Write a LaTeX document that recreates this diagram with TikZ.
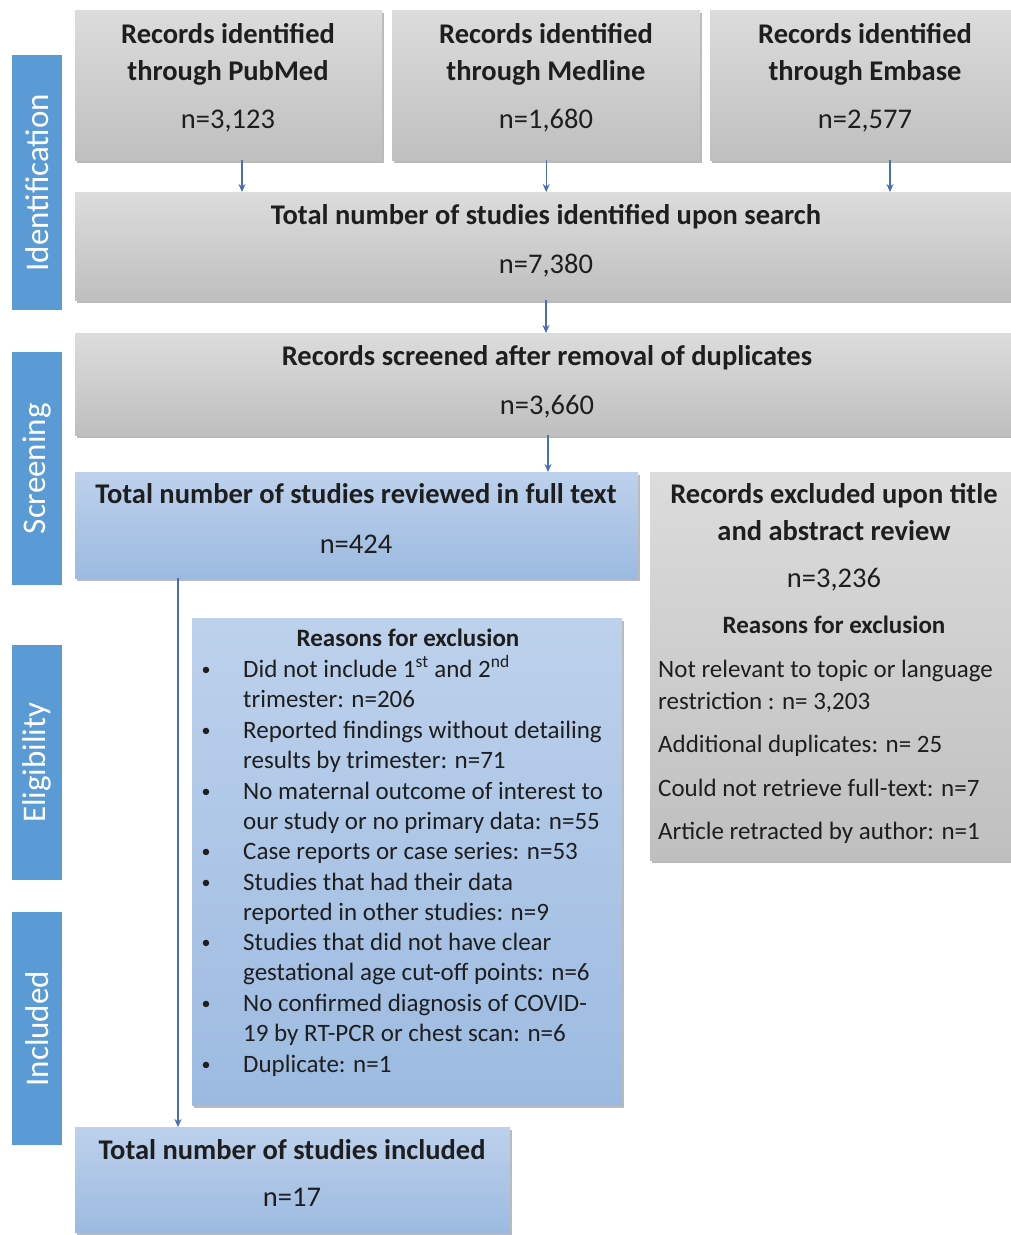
\documentclass[tikz,border=0pt]{standalone}
\usepackage{fontspec}
\setmainfont{Carlito}
\usetikzlibrary{shadows,arrows.meta}
\definecolor{sidebl}{HTML}{5B9BD5}
\definecolor{gtop}{HTML}{DCDCDC}
\definecolor{gbot}{HTML}{BFBFBF}
\definecolor{btop}{HTML}{BDD1EC}
\definecolor{bbot}{HTML}{9CBAE1}
\definecolor{arrc}{HTML}{4A6DB8}
\definecolor{txt}{HTML}{1E1E1E}
\begin{document}
\begin{tikzpicture}[x=1pt,y=-1pt,
  boxbase/.style={draw=none,anchor=north west,inner sep=0pt,
    drop shadow={shadow xshift=1.5pt,shadow yshift=-3pt,fill=black!60,opacity=.45}},
  gbox/.style={boxbase,top color=gtop,bottom color=gbot},
  bbox/.style={boxbase,top color=btop,bottom color=bbot},
  sidebar/.style={draw=none,fill=sidebl,anchor=north west,inner sep=0pt},
  sidetxt/.style={rotate=90,text=white,font=\fontsize{33}{36}\selectfont,inner sep=0pt},
  ttl/.style={anchor=base,inner sep=0pt,text=txt,font=\fontsize{28.5}{32}\selectfont\bfseries},
  num/.style={anchor=base,inner sep=0pt,text=txt,font=\fontsize{28.5}{32}\selectfont},
  sttl/.style={anchor=base,inner sep=0pt,text=txt,font=\fontsize{25}{28}\selectfont\bfseries},
  line/.style={anchor=base west,inner sep=0pt,text=txt,font=\fontsize{25}{28}\selectfont},
  bul/.style={anchor=base,inner sep=0pt,text=txt,font=\fontsize{18}{20}\selectfont},
  conn/.style={draw=arrc,line width=1.4pt,-{Stealth[length=8pt,width=7pt]}}
]
\useasboundingbox[fill=white] (0,0) rectangle (1010,1235);

% side bars
\node[sidebar,minimum width=50,minimum height=255] (idb) at (12,55) {};
\node[sidebar,minimum width=50,minimum height=233] (scb) at (12,352) {};
\node[sidebar,minimum width=50,minimum height=235] (elb) at (12,645) {};
\node[sidebar,minimum width=50,minimum height=233] (inb) at (12,912) {};
\node[sidetxt] (idt) at (idb.center) {Identification};
\node[sidetxt] (sct) at (scb.center) {Screening};
\node[sidetxt] (elt) at (elb.center) {Eligibility};
\node[sidetxt] (int) at (inb.center) {Included};

% boxes
\node[gbox,minimum width=307,minimum height=150] (pub) at (75,10) {};
\node[gbox,minimum width=308,minimum height=150] (med) at (392,10) {};
\node[gbox,minimum width=302,minimum height=150] (emb) at (710,10) {};
\node[gbox,minimum width=937,minimum height=108] (tot) at (75,192) {};
\node[gbox,minimum width=937,minimum height=102] (scr) at (75,333) {};
\node[bbox,minimum width=563,minimum height=106] (full) at (75,472) {};
\node[gbox,minimum width=362,minimum height=388] (excl) at (650,472) {};
\node[bbox,minimum width=430,minimum height=487] (rsn) at (192,618) {};
\node[bbox,minimum width=435,minimum height=105] (incl) at (75,1127) {};

% texts
\node[ttl] (pub1) at (228,43) {Records identified};
\node[ttl] (pub2) at (228,80) {through PubMed};
\node[num] (pub3) at (228,128) {n=3,123};
\node[ttl] (med1) at (546,43) {Records identified};
\node[ttl] (med2) at (546,80) {through Medline};
\node[num] (med3) at (546,128) {n=1,680};
\node[ttl] (emb1) at (865,43) {Records identified};
\node[ttl] (emb2) at (865,80) {through Embase};
\node[num] (emb3) at (865,128) {n=2,577};
\node[ttl] (tot1) at (546,224) {Total number of studies identified upon search};
\node[num] (tot2) at (546,273) {n=7,380};
\node[ttl] (scr1) at (547,365) {Records screened after removal of duplicates};
\node[num] (scr2) at (547,414) {n=3,660};
\node[ttl] (full1) at (356,503) {Total number of studies reviewed in full text};
\node[num] (full2) at (356,553) {n=424};
\node[ttl] (inc1) at (292,1159) {Total number of studies included};
\node[num] (inc2) at (292,1206) {n=17};

\node[ttl] (ex1) at (834,503) {Records excluded upon title};
\node[ttl] (ex2) at (834,540) {and abstract review};
\node[num] (ex3) at (834,587) {n=3,236};
\node[sttl] (ex4) at (834,633) {Reasons for exclusion};
\node[line] (ex5) at (658,677) {Not relevant to topic or language};
\node[line] (ex6) at (658,709) {restriction : n= 3,203};
\node[line] (ex7) at (658,752) {Additional duplicates: n= 25};
\node[line] (ex8) at (658,796) {Could not retrieve full-text: n=7};
\node[line] (ex9) at (658,839) {Article retracted by author: n=1};

\node[sttl] (r0) at (408,646) {Reasons for exclusion};
\foreach \y/\t [count=\i] in {677/{Did not include 1\textsuperscript{st} and 2\textsuperscript{nd}},
  707/{trimester: n=206},
  738/{Reported findings without detailing},
  768/{results by trimester: n=71},
  799/{No maternal outcome of interest to},
  829/{our study or no primary data: n=55},
  859/{Case reports or case series: n=53},
  890/{Studies that had their data},
  920/{reported in other studies: n=9},
  950/{Studies that did not have clear},
  980/{gestational age cut-off points: n=6},
  1011/{No confirmed diagnosis of COVID-},
  1041/{19 by RT-PCR or chest scan: n=6},
  1072/{Duplicate: n=1}}
  {\node[line] (rl\i) at (243,\y) {\t};}
\foreach \y [count=\i] in {675,736,797,857,888,948,1009,1070}
  {\node[bul] (b\i) at (206,\y) {•};}

% connectors
\draw[conn] (pub.south west) ++(167,0) coordinate (c1) -- (c1 |- tot.north);
\draw[conn] (med.south) -- (med.south |- tot.north);
\draw[conn] (emb.south west) ++(180,0) coordinate (c3) -- (c3 |- tot.north);
\draw[conn] (tot.south west) ++(471,0) coordinate (c4) -- (c4 |- scr.north);
\draw[conn] (scr.south west) ++(473,0) coordinate (c5) -- (c5 |- full.north);
\draw[conn] (full.south west) ++(103,0) coordinate (c6) -- (c6 |- incl.north);
\end{tikzpicture}
\end{document}
